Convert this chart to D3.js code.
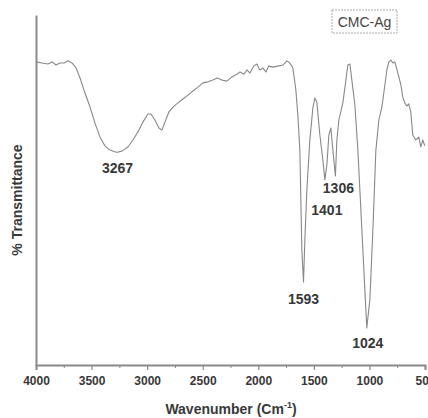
<!DOCTYPE html>
<html>
<head>
  <meta charset="utf-8">
  <title>CMC-Ag FTIR</title>
  <script src="https://d3js.org/d3.v7.min.js"></script>
  <style>
    body { margin: 0; background: #fff; }
    svg { display: block; font-family: "Liberation Sans", Arial, sans-serif; }
  </style>
</head>
<body>
  <div id="chart"></div>
  <script>
    // spectrum
    const wavenumber = [4000, 3946, 3892, 3856, 3820, 3784, 3748, 3712, 3676, 3640, 3604, 3559, 3514, 3469, 3424, 3379, 3335, 3290, 3267, 3227, 3173, 3128, 3083, 3038, 2993, 2966, 2930, 2894, 2867, 2840, 2804, 2768, 2723, 2678, 2633, 2588, 2543, 2498, 2453, 2408, 2372, 2327, 2282, 2237, 2201, 2165, 2129, 2102, 2075, 2040, 2013, 1986, 1959, 1932, 1905, 1869, 1824, 1779, 1743, 1716, 1689, 1662, 1644, 1626, 1617, 1608, 1593, 1581, 1563, 1536, 1509, 1491, 1473, 1446, 1419, 1401, 1383, 1365, 1347, 1329, 1306, 1293, 1275, 1239, 1212, 1194, 1176, 1158, 1131, 1104, 1077, 1050, 1024, 996, 969, 942, 915, 888, 861, 843, 825, 807, 789, 771, 744, 717, 700, 682, 664, 646, 628, 610, 583, 556, 538, 520, 502];
    const transmittance = [86.6, 86.3, 86.0, 86.6, 85.7, 86.3, 86.3, 86.9, 86.3, 84.9, 82.0, 77.7, 73.7, 69.1, 65.1, 62.6, 61.4, 60.9, 60.8, 61.1, 62.3, 64.3, 66.6, 69.4, 71.7, 71.7, 70.0, 67.7, 67.1, 69.4, 72.3, 73.7, 74.9, 76.0, 77.1, 78.3, 79.4, 80.6, 80.9, 81.4, 82.0, 81.4, 81.1, 82.3, 82.9, 83.7, 83.1, 84.3, 83.4, 85.4, 86.0, 84.3, 84.9, 83.7, 85.4, 85.1, 85.4, 85.7, 86.9, 86.3, 84.9, 78.6, 71.4, 61.4, 47.1, 32.9, 23.7, 35.7, 50.0, 64.3, 73.4, 76.3, 75.1, 65.7, 58.6, 52.9, 57.1, 65.7, 67.7, 61.4, 54.0, 64.3, 70.0, 74.9, 81.4, 85.7, 86.0, 81.4, 74.3, 61.4, 44.3, 27.1, 10.6, 18.6, 38.6, 61.4, 70.0, 73.7, 80.0, 84.3, 86.6, 87.1, 86.3, 86.6, 83.4, 80.0, 76.6, 74.9, 74.0, 74.6, 72.3, 65.7, 64.3, 65.1, 62.3, 64.3, 62.6];
    const peaks = [3267, 1593, 1401, 1306, 1024];
    const xTicks = [4000, 3500, 3000, 2500, 2000, 1500, 1000, 500];
    const seriesName = "CMC-Ag";

    const width = 428, height = 418;
    const margin = { top: 15, right: 3, bottom: 53, left: 36 };

    const svg = d3.select("#chart").append("svg")
      .attr("width", width)
      .attr("height", height);

    const x = d3.scaleLinear()
      .domain([4000, 500])
      .range([margin.left, width - margin.right]);

    const y = d3.scaleLinear()
      .domain([0, 100])
      .range([height - margin.bottom, margin.top]);

    const points = wavenumber.map((w, i) => ({ w: w, t: transmittance[i] }));

    // x axis: minor ticks first, then the major ones with labels
    const minor = svg.append("g")
      .attr("transform", `translate(0,${height - margin.bottom})`)
      .call(d3.axisBottom(x).tickValues(d3.range(3750, 500, -500)).tickSize(3).tickFormat(""));
    minor.selectAll(".tick line").attr("stroke", "#888");
    minor.select(".domain").remove();

    const major = svg.append("g")
      .attr("transform", `translate(0,${height - margin.bottom})`)
      .call(d3.axisBottom(x).tickValues(xTicks).tickSize(5).tickPadding(6).tickFormat(d3.format("d")));
    major.select(".domain").attr("stroke", "#8a8a8a").attr("stroke-width", 2);
    major.selectAll(".tick line").attr("stroke", "#888").attr("stroke-width", 1.2);
    major.selectAll(".tick text")
      .attr("fill", "#383838")
      .attr("font-size", 12)
      .attr("font-weight", "bold");

    // y axis, no ticks
    const yAxis = svg.append("g")
      .attr("transform", `translate(${margin.left},0)`)
      .call(d3.axisLeft(y).tickValues([]).tickSizeOuter(0));
    yAxis.select(".domain").attr("stroke", "#8a8a8a").attr("stroke-width", 2);

    // spectrum line
    const line = d3.line()
      .x(d => x(d.w))
      .y(d => y(d.t));

    svg.append("path")
      .datum(points)
      .attr("fill", "none")
      .attr("stroke", "#888")
      .attr("stroke-width", 1.1)
      .attr("stroke-linejoin", "round")
      .attr("d", line);

    // peak labels
    const labelOffset = { 3267: [0, 21], 1593: [0, 22], 1401: [2, 35], 1306: [3, 17], 1024: [1, 20] };
    svg.append("g")
      .selectAll("text")
      .data(peaks)
      .join("text")
      .attr("x", d => x(d) + labelOffset[d][0])
      .attr("y", d => y(points.find(p => p.w === d).t) + labelOffset[d][1])
      .attr("text-anchor", "middle")
      .attr("font-size", 14)
      .attr("font-weight", "bold")
      .attr("fill", "#383838")
      .text(d => d);

    // legend box
    const legend = svg.append("g").attr("transform", "translate(332,10)");
    legend.append("rect")
      .attr("width", 65)
      .attr("height", 23)
      .attr("fill", "#fff")
      .attr("stroke", "#aaa")
      .attr("stroke-dasharray", "2,1");
    legend.append("text")
      .attr("x", 32.5)
      .attr("y", 17)
      .attr("text-anchor", "middle")
      .attr("font-size", 14)
      .attr("fill", "#444")
      .text(seriesName);

    // axis titles
    const xTitle = svg.append("text")
      .attr("x", 231)
      .attr("y", 414)
      .attr("text-anchor", "middle")
      .attr("font-size", 14)
      .attr("font-weight", "bold")
      .attr("fill", "#383838");
    xTitle.append("tspan").text("Wavenumber (Cm");
    xTitle.append("tspan").attr("dy", -6).attr("font-size", 9).text("-1");
    xTitle.append("tspan").attr("dy", 6).text(")");

    svg.append("text")
      .attr("transform", "translate(22,200) rotate(-90)")
      .attr("text-anchor", "middle")
      .attr("font-size", 14)
      .attr("font-weight", "bold")
      .attr("fill", "#383838")
      .text("% Transmittance");
  </script>
</body>
</html>
